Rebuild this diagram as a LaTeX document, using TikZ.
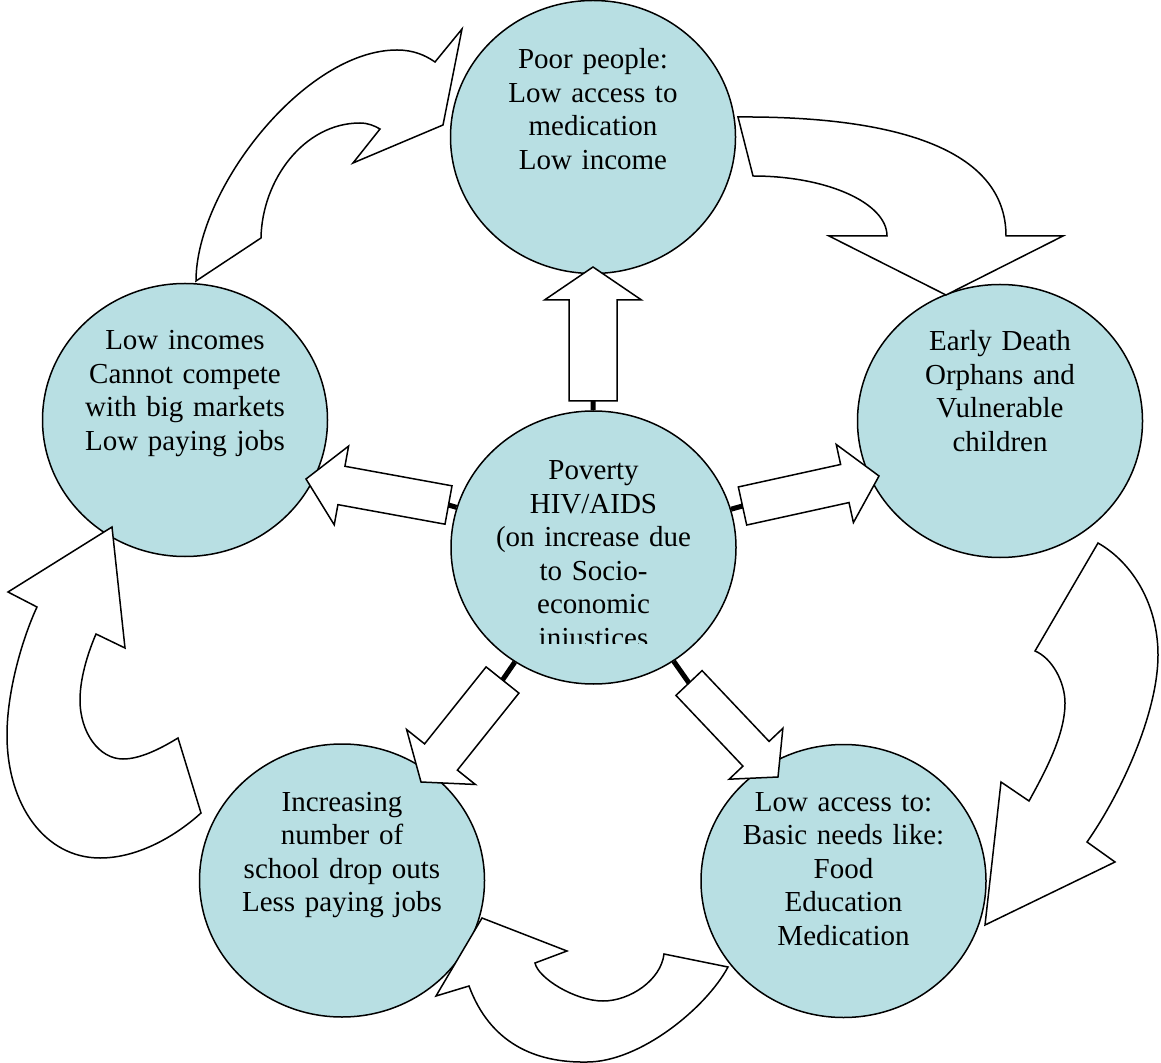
\documentclass[tikz,border=0pt]{standalone}
\usepackage{fontspec}
\setmainfont{Liberation Serif}
\usetikzlibrary{calc,shapes.geometric}
\definecolor{cfill}{RGB}{184,223,227}
\newcommand\blockarr[5]{%
  \path ($(#2)!#5!(#1)$) coordinate (bA);
  \draw[barrow] ($(#1)!#3!90:(#2)$) -- ($(bA)!#3!-90:(#1)$) -- ($(bA)!#4!-90:(#1)$) -- (#2)
    -- ($(bA)!#4!90:(#1)$) -- ($(bA)!#3!90:(#1)$) -- ($(#1)!#3!-90:(#2)$) -- cycle;}
\begin{document}
\begin{tikzpicture}[x=0.5pt,y=-0.5pt,
  circ/.style={ellipse, draw, fill=cfill, line width=0.75pt, minimum width=142.5pt, minimum height=136.5pt, inner sep=0pt},
  lbl/.style={text width=150pt, align=center, anchor=base, inner sep=0pt, font=\fontsize{14.5pt}{16.75pt}\selectfont},
  conn/.style={line width=2.5pt},
  barrow/.style={draw, fill=white, line width=0.75pt, line join=miter},
  carrow/.style={draw, fill=white, line width=0.75pt, line join=miter}]
\useasboundingbox (0,0) rectangle (1161,1063);
% circles
\node[circ] (T)  at (593,137)   {};
\node[circ] (L)  at (185,420)   {};
\node[circ] (R)  at (1000,421)  {};
\node[circ] (C)  at (593.5,547.5) {};
\node[circ] (BL) at (342,880.5) {};
\node[circ] (BR) at (843.5,881) {};
% straight block arrows: tails and tips
\coordinate (tU)  at (593,401);   \coordinate (hU)  at (593,267);
\coordinate (tL)  at (448.5,505); \coordinate (hL)  at (306,479);
\coordinate (tR)  at (742.5,506); \coordinate (hR)  at (879,476);
\coordinate (tBL) at (502.5,680); \coordinate (hBL) at (421,782);
\coordinate (tBR) at (689,683);   \coordinate (hBR) at (778,777);
\draw[conn] (C) -- (tU);
\draw[conn] (C) -- (tL);
\draw[conn] (C) -- (tR);
\draw[conn] (C) -- (tBL);
\draw[conn] (C) -- (tBR);
\blockarr{tU}{hU}{12pt}{24.25pt}{16.5pt}
\blockarr{tL}{hL}{9.75pt}{20pt}{18pt}
\blockarr{tR}{hR}{9.75pt}{20pt}{17.5pt}
\blockarr{tBL}{hBL}{10.5pt}{22pt}{16pt}
\blockarr{tBR}{hBR}{9pt}{18.5pt}{16pt}
% curved arrows
% left circle -> top circle
\draw[carrow] (196,281) -- (261,238)
  .. controls (262,180) and (304,123) .. (360,123)
  .. controls (368,123) and (375,126) .. (380,129)
  -- (353,163) -- (443,125) -- (462,29) -- (435,62)
  .. controls (425,55) and (413,50) .. (397,50)
  .. controls (305,50) and (196,189) .. (196,281) -- cycle;
% top circle -> right circle
\draw[carrow] (738,117) -- (753,176)
  .. controls (827,176) and (887,203) .. (887,236)
  -- (829,236) -- (946,295) -- (1063,236) -- (1006,236)
  .. controls (1006,148) and (893,116) .. (738,117) -- cycle;
% right circle -> bottom-right circle
\draw[carrow] (1098,543) -- (1035,651)
  .. controls (1052,658) and (1065,682) .. (1065,703)
  .. controls (1065,735) and (1045,772) .. (1029,801)
  -- (1001,782) -- (985,925) -- (1115,862) -- (1087,842)
  .. controls (1122,792) and (1158,712) .. (1158,655)
  .. controls (1158,605) and (1133,563) .. (1098,543) -- cycle;
% bottom-right circle -> bottom-left circle
\draw[carrow] (728,967) -- (664,954)
  .. controls (661,980) and (630,1001) .. (603,1001)
  .. controls (575,1001) and (538,978) .. (535,963)
  -- (567,951) -- (482,918) -- (436,996) -- (469,986)
  .. controls (490,1043) and (535,1063) .. (587,1062)
  .. controls (640,1062) and (706,1008) .. (728,967) -- cycle;
% bottom-left circle -> left circle
\draw[carrow] (201,813) -- (178,738)
  .. controls (160,749) and (140,759) .. (123,759)
  .. controls (99,759) and (80,732.5) .. (80,700)
  .. controls (80,675) and (90,648) .. (96,634)
  -- (125,648) -- (112,527) -- (8,592) -- (37,607)
  .. controls (23,637) and (7,690) .. (7,735)
  .. controls (7,805) and (45,858) .. (100,858)
  .. controls (140,858) and (178,834) .. (201,813) -- cycle;
% texts
\node[lbl] (xT)  at ($(T.center)+(0,-68)$)  {Poor people:\\Low access to\\medication\\Low income};
\node[lbl] (xL)  at ($(L.center)+(0,-70)$)  {Low incomes\\Cannot compete\\with big markets\\Low paying jobs};
\node[lbl] (xR)  at ($(R.center)+(0,-70)$)  {Early Death\\Orphans and\\Vulnerable\\children};
\node[lbl] (xBL) at ($(BL.center)+(0,-69.5)$) {Increasing\\number of\\school drop outs\\Less paying jobs};
\node[lbl] (xBR) at ($(BR.center)+(0,-70)$) {Low access to:\\Basic needs like:\\Food\\Education\\Medication};
\begin{scope}
\clip (0,0) rectangle (1161,643);
\node[lbl] (xC) at ($(C.center)+(0,-67.5)$) {Poverty\\HIV/AIDS\\(on increase due\\to Socio-\\economic\\injustices};
\end{scope}
\end{tikzpicture}
\end{document}
